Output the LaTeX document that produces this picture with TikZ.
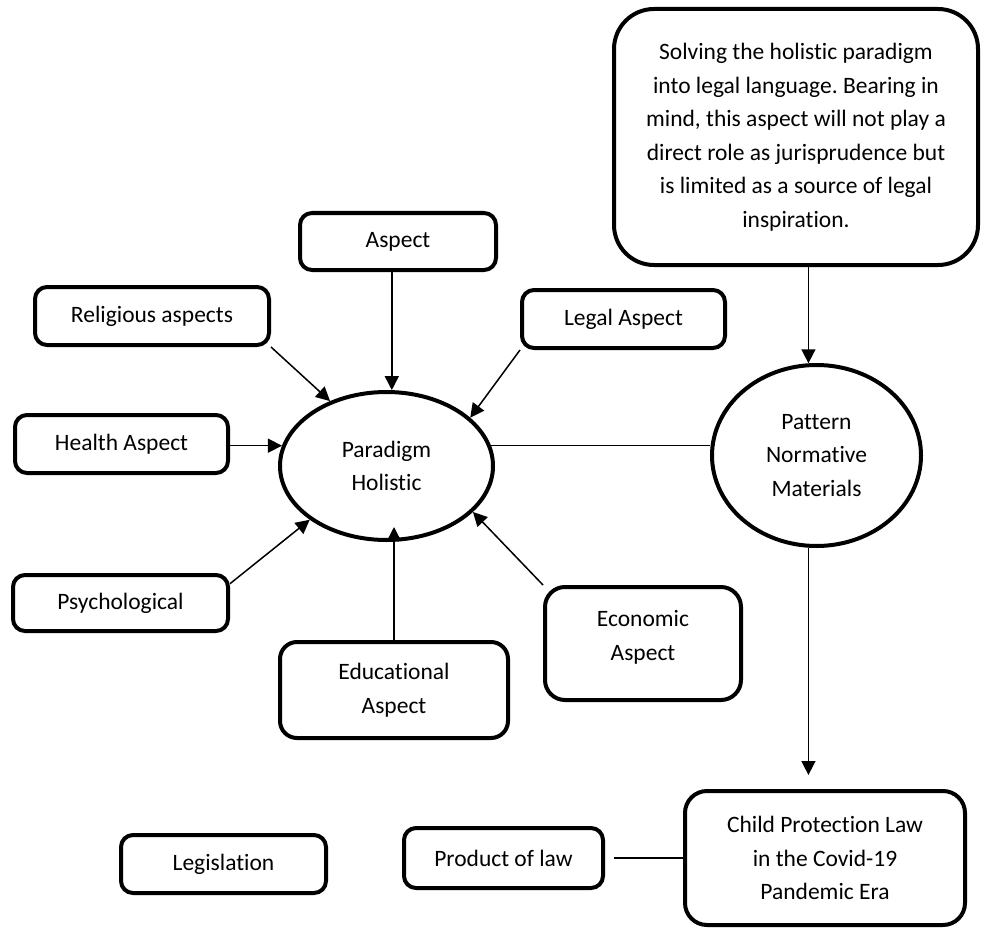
\documentclass[tikz,border=0pt]{standalone}
\usepackage{fontspec}
\setmainfont{Carlito}[Ligatures={NoCommon}]
\usetikzlibrary{arrows.meta,shapes.geometric}
\frenchspacing
\begin{document}
\begin{tikzpicture}[x=1pt,y=-1pt,
  every node/.style={font=\fontsize{23.5}{33.5}\selectfont, align=center, inner sep=0pt},
  box/.style={draw, line width=4pt, rounded corners=12pt},
  oval/.style={draw, ellipse, line width=4pt},
  arr/.style={line width=1.5pt, -{Triangle[length=14pt,width=14pt]}},
  con/.style={line width=1.5pt}]
\useasboundingbox (0,0) rectangle (982,928);
% boxes
\node[box, rounded corners=40pt, minimum width=364, minimum height=256] (big) at (796,137)
  {Solving the holistic paradigm\\into legal language. Bearing in\\mind, this aspect will not play a\\direct role as jurisprudence but\\is limited as a source of legal\\inspiration.};
\node[box, minimum width=196, minimum height=57] (asp) at (398,241.5) {Aspect};
\node[box, minimum width=234, minimum height=58] (rel) at (152,316) {Religious aspects};
\node[box, minimum width=203, minimum height=58] (leg) at (623.5,319) {Legal Aspect};
\node[box, minimum width=213, minimum height=58] (hea) at (121.5,444) {Health Aspect};
\node[box, minimum width=215, minimum height=56] (psy) at (120.5,603) {Psychological};
\node[box, rounded corners=17pt, minimum width=228, minimum height=96] (edu) at (394,690) {Educational\\Aspect};
\node[box, rounded corners=20pt, minimum width=196, minimum height=113] (eco) at (643,643.5) {};
\node (ecot) at ([yshift=6pt]eco.center) {Economic\\Aspect};
\node[box, rounded corners=22pt, minimum width=280, minimum height=134] (chi) at (825,858) {Child Protection Law\\in the Covid-19\\Pandemic Era};
\node[box, minimum width=199, minimum height=60] (pro) at (503.5,858) {Product of law};
\node[box, minimum width=205, minimum height=58] (legis) at (223.5,864) {Legislation};
% ellipses
\node[oval, minimum width=213, minimum height=148] (par) at (386.5,466) {Paradigm\\Holistic};
\node[oval, minimum width=209, minimum height=181] (pat) at (816.5,455.5) {Pattern\\Normative\\Materials};
% connectors
\draw[arr] (par.86 |- asp.south) -- (par.86);
\draw[arr] (rel.south east) -- (par.131);
\draw[arr] (leg.south west) -- (par.30);
\draw[arr] (hea.east |- par.169) -- (par.169);
\draw[arr] (psy.10) -- (par.215);
\draw[arr, shorten >=-15pt] (edu.north) -- (edu.north |- par.south);
\draw[arr] (eco.north west) -- (par.332);
\draw[con] (par.11) -- (par.11 -| pat.west);
\draw[arr] (pat.95 |- big.south) -- (pat.95);
\draw[arr, shorten >=14pt] (pat.265) -- (pat.265 |- chi.north);
\draw[con, shorten <=9pt] (pro.east) -- (chi.west);
\end{tikzpicture}
\end{document}
